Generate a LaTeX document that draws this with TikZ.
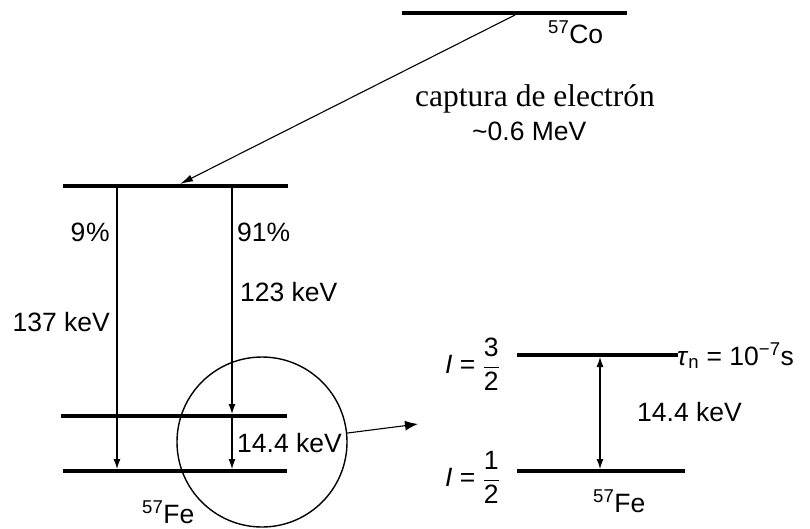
\documentclass[tikz,border=0pt]{standalone}
\usepackage{fontspec}
\setmainfont{Liberation Sans}
\newfontfamily\serifface{Liberation Serif}
\usetikzlibrary{arrows.meta}
\begin{document}
\begin{tikzpicture}[x=1pt,y=-1pt,
  level/.style={line width=4pt},
  trans/.style={line width=1.1pt,-{Latex[length=10pt,width=7pt]}},
  bitrans/.style={line width=1.1pt,{Latex[length=10pt,width=7pt]}-{Latex[length=10pt,width=7pt]}},
  lbl/.style={font=\fontsize{26.5}{30}\selectfont, inner sep=0pt}]
\useasboundingbox (0,0) rectangle (810,528);
% level coordinates
\coordinate (coL) at (402,13);   \coordinate (coR) at (627,13);
\coordinate (exL) at (63,186);   \coordinate (exR) at (288,186);
\coordinate (mL) at (61,416);    \coordinate (mR) at (287,416);
\coordinate (gL) at (63,471);    \coordinate (gR) at (287,471);
\coordinate (rtL) at (517,355);  \coordinate (rtR) at (678,355);
\coordinate (rgL) at (517,471);  \coordinate (rgR) at (685,471);
% levels
\draw[level] (coL) -- (coR);
\draw[level] (exL) -- (exR);
\draw[level] (mL) -- (mR);
\draw[level] (gL) -- (gR);
\draw[level] (rtL) -- (rtR);
\draw[level] (rgL) -- (rgR);
% transition coordinates
\coordinate (ecS) at (515,15);  \coordinate (ecT) at (180,184);
\coordinate (aS) at (117,188);  \coordinate (aT) at (117,469);
\coordinate (bS) at (232,188);  \coordinate (bT) at (232,414);
\coordinate (cS) at (232,418);  \coordinate (cT) at (232,469);
\coordinate (dS) at (600,357);  \coordinate (dT) at (600,469);
% transitions
\draw[line width=1.1pt,-{Latex[length=13pt,width=7pt]}] (ecS) -- (ecT);
\draw[trans] (aS) -- (aT);
\draw[trans] (bS) -- (bT);
\draw[trans] (cS) -- (cT);
\draw[bitrans] (dS) -- (dT);
% magnifier
\node[circle, draw, line width=1.4pt, minimum size=170pt, inner sep=0pt] (loupe) at (262,442) {};
\coordinate (zoomT) at (418,424);
\draw[line width=1.1pt,-{Latex[length=13pt,width=10pt]}] (loupe.6) -- (zoomT);
% labels
\node[lbl, anchor=base west] (co) at (548,43) {\textsuperscript{57}Co};
\node[inner sep=0pt, anchor=base, font=\serifface\fontsize{31.5}{36}\selectfont] (ec) at (535,106) {captura de electrón};
\node[lbl, anchor=base west] (mev) at (472,140) {\textasciitilde0.6 MeV};
\node[lbl, anchor=east] (p9) at (110,232) {9\kern1pt\%};
\node[lbl, anchor=west] (p91) at (237,232) {91\%};
\node[lbl, anchor=west] (e123) at (240,292) {123 keV};
\node[lbl, anchor=east] (e137) at (110,322) {137 keV};
\node[lbl, anchor=west] (e14a) at (237,443) {14.4 keV};
\node[lbl, anchor=base west] (fe1) at (142,523) {\textsuperscript{57}Fe};
\node[lbl, anchor=east] (i32) at (500,364) {\textit{I} = $\displaystyle\frac{\mbox{3}}{\mbox{2}}$};
\node[lbl, anchor=east] (i12) at (500,477) {\textit{I} = $\displaystyle\frac{\mbox{1}}{\mbox{2}}$};
\node[lbl, anchor=base west] (tau) at (677,365) {\textit{τ}\textsubscript{n} = 10\textsuperscript{−7}s};
\node[lbl, anchor=west] (e14b) at (637,412) {14.4 keV};
\node[lbl, anchor=base west] (fe2) at (593,512) {\textsuperscript{57}Fe};
\end{tikzpicture}
\end{document}
